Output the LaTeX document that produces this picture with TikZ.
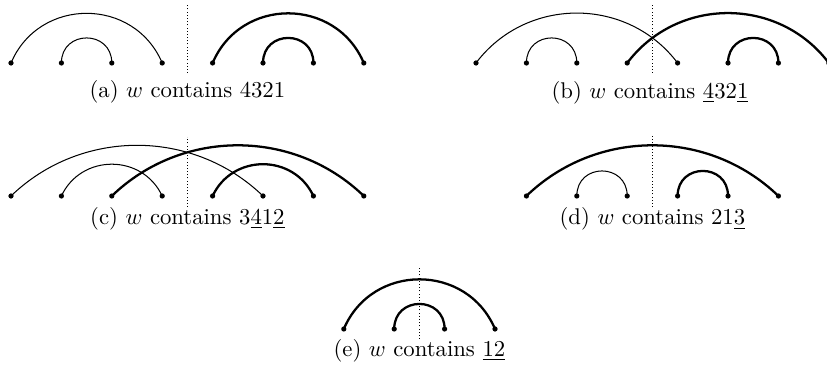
\documentclass[tikz,border=0pt]{standalone}
\usetikzlibrary{positioning}
\begin{document}
\begin{tikzpicture}[x=0.44pt,y=0.44pt]
\tikzstyle{pt}=[circle,fill,inner sep=0pt,minimum size=2.3pt]
\tikzstyle{thn}=[line width=0.45pt]
\tikzstyle{thk}=[line width=1pt]
\tikzstyle{sep}=[densely dotted,line width=0.4pt]
\tikzstyle{w1}=[out=90,in=90,looseness=1.7]
\tikzstyle{w2}=[out=65,in=115,looseness=1.19]
\tikzstyle{w3}=[out=67,in=113,looseness=1.22]
\tikzstyle{w4}=[out=53,in=127,looseness=1.06]
\tikzstyle{w5}=[out=44,in=136,looseness=0.99]
\clip (0,0) rectangle (827,376);
% (a)
\foreach \i in {1,...,8} \node[pt] (a\i) at ({11+50.4*(\i-1)},313) {};
\draw[thn] (a1.center) to[w3] (a4.center);
\draw[thn] (a2.center) to[w1] (a3.center);
\draw[thk] (a5.center) to[w3] (a8.center);
\draw[thk] (a6.center) to[w1] (a7.center);
\draw[sep] (187.4,303) -- (187.4,372);
\node (capa) at (187.4,284) {(a) $w$ contains 4321};
% (b)
\foreach \i in {1,...,8} \node[pt] (b\i) at ({476+50.4*(\i-1)},313) {};
\draw[thn] (b1.center) to[w4] (b5.center);
\draw[thn] (b2.center) to[w1] (b3.center);
\draw[thk] (b4.center) to[w4] (b8.center);
\draw[thk] (b6.center) to[w1] (b7.center);
\draw[sep] (652.4,303) -- (652.4,372);
\node (capb) at (650,283) {(b) $w$ contains \underline{4}32\underline{1}};
% (c)
\foreach \i in {1,...,8} \node[pt] (c\i) at ({11+50.4*(\i-1)},180) {};
\draw[thn] (c1.center) to[w5] (c6.center);
\draw[thn] (c2.center) to[w2] (c4.center);
\draw[thk] (c3.center) to[w5] (c8.center);
\draw[thk] (c5.center) to[w2] (c7.center);
\draw[sep] (187.4,169) -- (187.4,239);
\node (capc) at (187.4,157) {(c) $w$ contains 3\underline{4}1\underline{2}};
% (d)
\foreach \i in {1,...,6} \node[pt] (d\i) at ({526.4+50.4*(\i-1)},180) {};
\draw[thk] (d1.center) to[w5] (d6.center);
\draw[thn] (d2.center) to[w1] (d3.center);
\draw[thk] (d4.center) to[w1] (d5.center);
\draw[sep] (652.4,169) -- (652.4,240);
\node (capd) at (652.4,157) {(d) $w$ contains 21\underline{3}};
% (e)
\foreach \i in {1,...,4} \node[pt] (e\i) at ({343.8+50.4*(\i-1)},47) {};
\draw[thk] (e1.center) to[w3] (e4.center);
\draw[thk] (e2.center) to[w1] (e3.center);
\draw[sep] (419.4,37) -- (419.4,108);
\node (cape) at (419.4,25) {(e) $w$ contains \underline{12}};
\end{tikzpicture}
\end{document}
